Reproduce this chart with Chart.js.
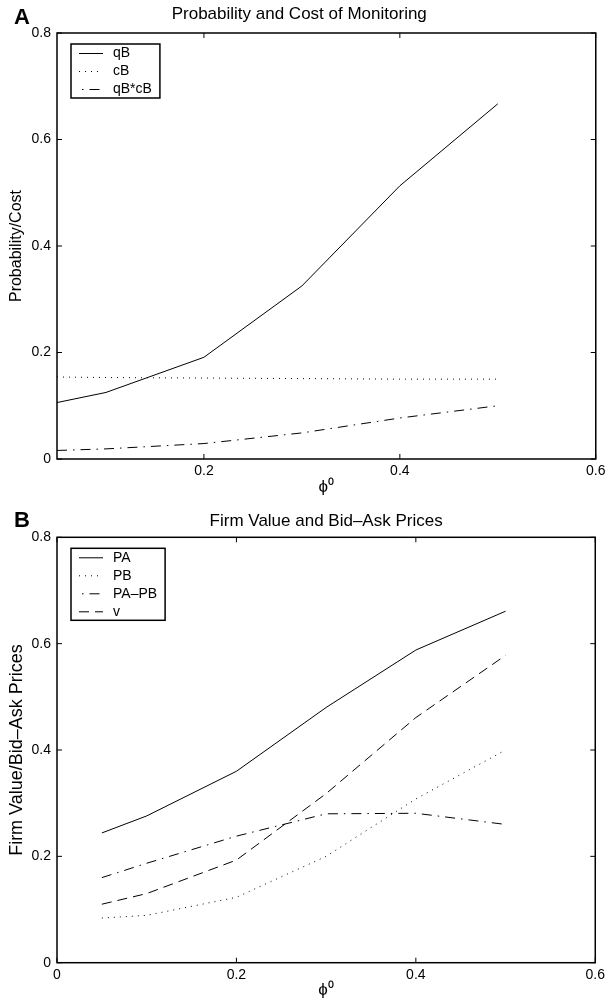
<!DOCTYPE html>
<html>
<head>
<meta charset="utf-8">
<script src="https://cdn.jsdelivr.net/npm/chart.js@4.4.1/dist/chart.umd.min.js"></script>
<style>
  html, body { margin: 0; padding: 0; background: #fff; }
  #wrap { position: relative; width: 609px; height: 1001px; }
  canvas { position: absolute; left: 0; }
</style>
</head>
<body>
<div id="wrap">
  <canvas id="chartA" width="609" height="503" style="top:0"></canvas>
  <canvas id="chartB" width="609" height="498" style="top:503px"></canvas>
</div>
<script>
// monitoring level on the x axis
const phi = [0.05, 0.1, 0.2, 0.3, 0.4, 0.5];

// panel A: probability and cost of monitoring
const qB = [0.106, 0.125, 0.191, 0.325, 0.513, 0.667];
const cB = [0.154, 0.153, 0.152, 0.151, 0.150, 0.150];
const qBcB = [0.016, 0.019, 0.029, 0.049, 0.077, 0.100];

// panel B: firm value and bid-ask prices
const PA = [0.244, 0.276, 0.360, 0.480, 0.588, 0.661];
const PB = [0.084, 0.089, 0.123, 0.200, 0.308, 0.400];
const PAPB = [0.160, 0.187, 0.238, 0.280, 0.281, 0.260];
const v = [0.110, 0.130, 0.193, 0.318, 0.461, 0.578];

const xTicksA = [0.2, 0.4, 0.6];
const xTicksB = [0, 0.2, 0.4, 0.6];
const yTicks = [0, 0.2, 0.4, 0.6, 0.8];

const FONT = '"Liberation Sans", Arial, Helvetica, sans-serif';
const SOLID = [];
const DOT = [1, 5];
const DASHDOT = [10, 6, 1.5, 6];
const DASH = [10, 6];

function series(label, ys, dash) {
  return {
    label: label,
    data: phi.map((x, i) => ({ x: x, y: ys[i] })),
    borderColor: '#000',
    borderWidth: 1,
    borderDash: dash,
    pointRadius: 0,
    fill: false,
    tension: 0
  };
}

// axes box with inward ticks on all four sides, plus the panel letter
const frame = {
  id: 'frame',
  afterDraw(chart, args, opts) {
    const { ctx, chartArea: a, scales } = chart;
    ctx.save();
    ctx.strokeStyle = '#000';
    ctx.lineWidth = 1;
    ctx.beginPath();
    scales.x.ticks.forEach(t => {
      const px = scales.x.getPixelForValue(t.value);
      ctx.moveTo(px, a.bottom); ctx.lineTo(px, a.bottom - 5);
      ctx.moveTo(px, a.top); ctx.lineTo(px, a.top + 5);
    });
    scales.y.ticks.forEach(t => {
      const py = scales.y.getPixelForValue(t.value);
      ctx.moveTo(a.left, py); ctx.lineTo(a.left + 5, py);
      ctx.moveTo(a.right, py); ctx.lineTo(a.right - 5, py);
    });
    ctx.stroke();
    ctx.lineWidth = 1.5;
    ctx.strokeRect(a.left, a.top, a.right - a.left, a.bottom - a.top);
    ctx.fillStyle = '#000';
    ctx.font = 'bold 22px ' + FONT;
    ctx.textBaseline = 'middle';
    ctx.textAlign = 'left';
    ctx.fillText(opts.letter, 14, 18);
    ctx.restore();
  }
};

// boxed legend in the upper left corner of the plot
const boxLegend = {
  id: 'boxLegend',
  afterDraw(chart, args, opts) {
    const { ctx, chartArea: a } = chart;
    const sets = chart.data.datasets;
    ctx.save();
    ctx.font = '14px ' + FONT;
    let tw = 0;
    sets.forEach(d => { tw = Math.max(tw, ctx.measureText(d.label).width); });
    const bx = a.left + 14, by = a.top + 11;
    const bw = 42 + tw + 8;
    const bh = 9.5 + (sets.length - 1) * 18 + 8.5;
    ctx.fillStyle = '#fff';
    ctx.fillRect(bx, by, bw, bh);
    ctx.strokeStyle = '#000';
    ctx.lineWidth = 1.5;
    ctx.strokeRect(bx, by, bw, bh);
    ctx.lineWidth = 1;
    ctx.fillStyle = '#000';
    ctx.textBaseline = 'middle';
    sets.forEach((d, i) => {
      const y = by + 9.5 + i * 18;
      ctx.setLineDash(d.borderDash);
      // start the dash-dot sample on a dot
      ctx.lineDashOffset = d.borderDash.length === 4 ? 13 : 0;
      ctx.beginPath();
      ctx.moveTo(bx + 8, y);
      ctx.lineTo(bx + 32, y);
      ctx.stroke();
      ctx.setLineDash([]);
      ctx.fillText(d.label, bx + 42, y);
    });
    ctx.restore();
  }
};

function panel(cfg) {
  return {
    type: 'line',
    data: { datasets: cfg.datasets },
    plugins: [frame, boxLegend],
    options: {
      responsive: false,
      animation: false,
      layout: { padding: { left: 0, right: 10.5, top: 0, bottom: 0 } },
      plugins: {
        legend: { display: false },
        tooltip: { enabled: false },
        title: {
          display: true,
          text: cfg.title,
          fullSize: cfg.titleFull,
          color: '#000',
          font: { family: FONT, size: 17, weight: 'normal' },
          padding: cfg.titlePad
        },
        frame: { letter: cfg.letter }
      },
      scales: {
        x: {
          type: 'linear',
          min: cfg.xMin,
          max: 0.6,
          afterBuildTicks: s => { s.ticks = cfg.xTicks.map(value => ({ value })); },
          afterFit: s => { s.height = cfg.xHeight; },
          grid: { display: false, drawTicks: false },
          border: { display: false },
          ticks: {
            color: '#000',
            font: { family: FONT, size: 14 },
            padding: cfg.xTickPad,
            maxRotation: 0,
            autoSkip: false,
            callback: val => String(val)
          },
          title: {
            display: true,
            text: 'ϕ⁰',
            color: '#000',
            font: { family: FONT, size: 17 },
            padding: { top: 0, bottom: cfg.xTitlePad }
          }
        },
        y: {
          min: 0,
          max: 0.8,
          afterBuildTicks: s => { s.ticks = yTicks.map(value => ({ value })); },
          afterFit: s => { s.width = 57; },
          grid: { display: false, drawTicks: false },
          border: { display: false },
          ticks: {
            color: '#000',
            font: { family: FONT, size: 14 },
            padding: 6,
            callback: val => String(val)
          },
          title: {
            display: true,
            text: cfg.yTitle,
            color: '#000',
            font: { family: FONT, size: cfg.yTitleSize },
            padding: { top: 17 - cfg.yTitleSize * 0.6, bottom: 0 }
          }
        }
      }
    }
  };
}

new Chart(document.getElementById('chartA'), panel({
  letter: 'A',
  title: 'Probability and Cost of Monitoring',
  titleFull: true,
  titlePad: { top: 3.8, bottom: 8.8 },
  yTitle: 'Probability/Cost',
  yTitleSize: 16,
  xMin: 0.05,
  xTicks: xTicksA,
  xHeight: 44,
  xTickPad: 3.5,
  xTitlePad: 5,
  datasets: [
    series('qB', qB, SOLID),
    series('cB', cB, DOT),
    series('qB*cB', qBcB, DASHDOT)
  ]
}));

new Chart(document.getElementById('chartB'), panel({
  letter: 'B',
  title: 'Firm Value and Bid–Ask Prices',
  titleFull: false,
  titlePad: { top: 8, bottom: 5.9 },
  yTitle: 'Firm Value/Bid–Ask Prices',
  yTitleSize: 18,
  xMin: 0,
  xTicks: xTicksB,
  xHeight: 38.3,
  xTickPad: 4,
  xTitlePad: 0,
  datasets: [
    series('PA', PA, SOLID),
    series('PB', PB, DOT),
    series('PA–PB', PAPB, DASHDOT),
    series('v', v, DASH)
  ]
}));
</script>
</body>
</html>
